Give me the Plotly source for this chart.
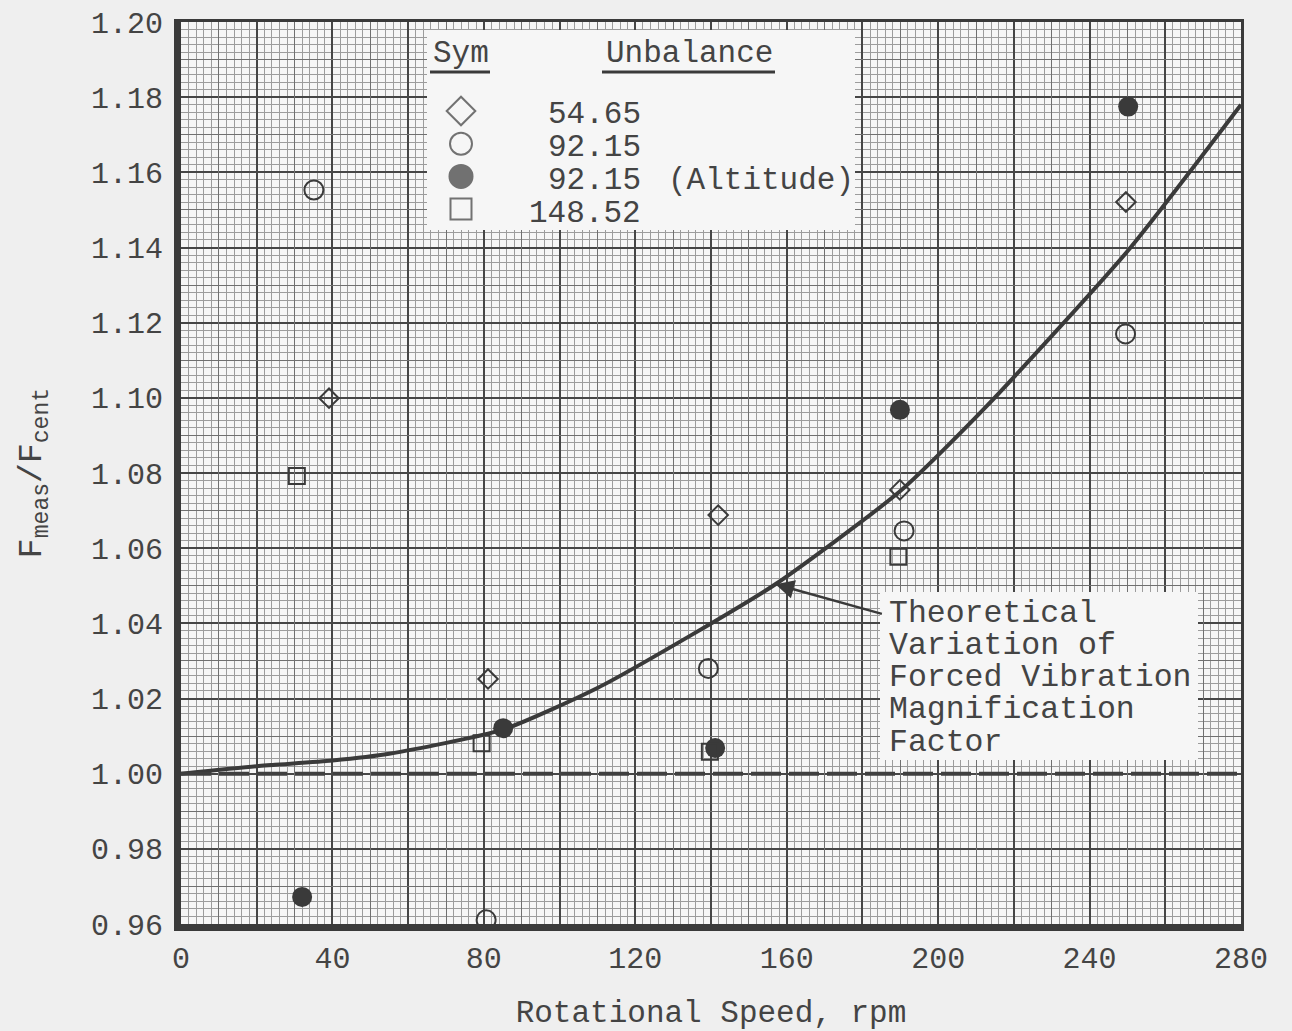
import plotly.graph_objects as go

# ---------------- data ----------------
diamond_rpm = [39.1, 81.1, 141.9, 189.9, 249.6]
diamond_ratio = [1.0999, 1.0252, 1.0688, 1.0755, 1.1521]

open_circle_rpm = [35.1, 80.6, 139.3, 191.0, 249.5]
open_circle_ratio = [1.1553, 0.9611, 1.0280, 1.0646, 1.1170]

filled_circle_rpm = [32.0, 85.1, 141.1, 189.9, 250.2]
filled_circle_ratio = [0.9672, 1.0121, 1.0068, 1.0968, 1.1775]

square_rpm = [30.6, 79.4, 139.7, 189.5]
square_ratio = [1.0792, 1.0081, 1.0058, 1.0577]

theory_rpm = [0, 20, 40, 55, 85, 110, 135, 157, 190, 213, 250, 280]
theory_ratio = [1.000, 1.002, 1.0035, 1.0053, 1.0117, 1.0228, 1.037, 1.0504,
                1.0752, 1.098, 1.139, 1.178]

baseline_ratio = 1.00
arrow_rpm, arrow_ratio = 157, 1.0504

x_tick_vals = list(range(0, 281, 40))
x_tick_text = [str(v) for v in x_tick_vals]
y_tick_vals = [round(0.96 + 0.02 * i, 2) for i in range(13)]
y_tick_text = [f"{v:.2f}" for v in y_tick_vals]

legend_symbols = ["diamond-open", "circle-open", "circle", "square-open"]
legend_sizes = [22, 22, 23, 21]
legend_numbers = ["54.65", "92.15", "92.15", "148.52"]
legend_notes = ["", "", "(Altitude)", ""]
note_lines = ["Theoretical", "Variation of", "Forced Vibration",
              "Magnification", "Factor"]

X_RANGE = [0, 280]
Y_RANGE = [0.96, 1.20]

# ---------------- layout geometry (pixels) ----------------
W, H = 1292, 1031
L, R, T, B = 181, 1241, 22, 924
FONT = "Liberation Mono"
INK = "#3a3a3a"
TXT = "#444444"
HEAVY, MEDIUM, FINE = "#464646", "#707070", "#9c9c9c"


def px_x(p):
    return (p - L) / (R - L)


def px_y(p):
    return (B - p) / (B - T)


fig = go.Figure()

# theoretical curve
fig.add_trace(go.Scatter(x=theory_rpm, y=theory_ratio, mode="lines",
                         line=dict(color=INK, width=4, shape="spline", smoothing=0.6),
                         hoverinfo="skip", showlegend=False))
# baseline dashed
fig.add_trace(go.Scatter(x=X_RANGE, y=[baseline_ratio, baseline_ratio], mode="lines",
                         line=dict(color="#3f3f3f", width=4, dash="30px,8px"),
                         hoverinfo="skip", showlegend=False))

mk_line = dict(color=INK, width=2)
fig.add_trace(go.Scatter(x=diamond_rpm, y=diamond_ratio, mode="markers",
                         marker=dict(symbol="diamond-open", size=15, line=mk_line, color=INK),
                         showlegend=False))
fig.add_trace(go.Scatter(x=open_circle_rpm, y=open_circle_ratio, mode="markers",
                         marker=dict(symbol="circle-open", size=19, line=mk_line, color=INK),
                         showlegend=False))
fig.add_trace(go.Scatter(x=filled_circle_rpm, y=filled_circle_ratio, mode="markers",
                         marker=dict(symbol="circle", size=20, color=INK,
                                     line=dict(width=0)),
                         showlegend=False))
fig.add_trace(go.Scatter(x=square_rpm, y=square_ratio, mode="markers",
                         marker=dict(symbol="square-open", size=16, line=mk_line, color=INK),
                         showlegend=False))

# invisible traces to create the overlay grid subplots
for xa in ("x2", "x5"):
    fig.add_trace(go.Scatter(x=[X_RANGE[0]], y=[Y_RANGE[0]], xaxis=xa, yaxis="y2",
                             mode="markers", marker=dict(opacity=0), hoverinfo="skip",
                             showlegend=False))

# ---- legend inset (x3/y3): x in pixels relative to symbol column, y in rows ----
LB_L, LB_R, LB_T, LB_B = 427, 855, 30, 230
SYM_X = 461
ROW0, ROW_STEP = 111, 32.7
rows = list(range(len(legend_symbols)))
fig.add_trace(go.Scatter(x=[0] * len(rows), y=rows, xaxis="x3", yaxis="y3",
                         mode="markers",
                         marker=dict(symbol=legend_symbols, size=legend_sizes, color=INK,
                                     line=dict(color=INK, width=2)),
                         hoverinfo="skip", showlegend=False))

# ---- note box inset (x4/y4) in pixels from box top-left ----
NB_L, NB_R, NB_T, NB_B = 880, 1198, 592, 760
fig.add_trace(go.Scatter(x=[0], y=[0], xaxis="x4", yaxis="y4", mode="markers",
                         marker=dict(opacity=0), hoverinfo="skip", showlegend=False))

tick_font = dict(family=FONT, size=30, color=TXT)

fig.update_layout(
    width=W, height=H,
    margin=dict(l=L, r=W - R, t=T, b=H - B),
    paper_bgcolor="#efefef",
    plot_bgcolor="#f6f6f6",
    hovermode=False,
    xaxis=dict(range=X_RANGE, tickvals=x_tick_vals, ticktext=x_tick_text,
               ticks="", ticklabelstandoff=1, tickfont=tick_font, automargin=False,
               showgrid=True, gridcolor=HEAVY, gridwidth=1.7,
               minor=dict(tick0=0, dtick=2, showgrid=True, gridcolor=FINE, gridwidth=1),
               zeroline=False, showline=True, linecolor=INK, linewidth=7,
               title=dict(text="Rotational Speed, rpm", standoff=32,
                          font=dict(family=FONT, size=31, color=TXT))),
    yaxis=dict(range=Y_RANGE, tickvals=y_tick_vals, ticktext=y_tick_text,
               ticks="", ticklabelstandoff=5, tickfont=tick_font, automargin=False,
               showgrid=True, gridcolor=HEAVY, gridwidth=1.7,
               minor=dict(tick0=0.96, dtick=0.002, showgrid=True, gridcolor=FINE,
                          gridwidth=1),
               zeroline=False, showline=True, linecolor=INK, linewidth=7,
               title=dict(text="F<sub>meas</sub>/F<sub>cent</sub>", standoff=42,
                          font=dict(family=FONT, size=33, color=TXT))),
    # heavy lines at odd multiples of 20 rpm, plus top frame line
    xaxis2=dict(range=X_RANGE, overlaying="x", anchor="y2", side="top",
                tick0=20, dtick=40, showgrid=True, gridcolor=HEAVY, gridwidth=1.7,
                showticklabels=False, ticks="", zeroline=False, automargin=False,
                showline=True, linecolor=INK, linewidth=3),
    # medium lines at odd multiples of 10 rpm
    xaxis5=dict(range=X_RANGE, overlaying="x", anchor="y2", side="bottom",
                tick0=10, dtick=20, showgrid=True, gridcolor=MEDIUM, gridwidth=1.2,
                showticklabels=False, ticks="", zeroline=False, automargin=False,
                showline=False),
    yaxis2=dict(range=Y_RANGE, overlaying="y", anchor="x2", side="right",
                tick0=0.97, dtick=0.02, showgrid=True, gridcolor=MEDIUM, gridwidth=1.2,
                showticklabels=False, ticks="", zeroline=False, automargin=False,
                showline=True, linecolor=INK, linewidth=3),
    xaxis3=dict(domain=[px_x(LB_L), px_x(LB_R)], anchor="y3",
                range=[LB_L - SYM_X, LB_R - SYM_X], visible=False),
    yaxis3=dict(domain=[px_y(LB_B), px_y(LB_T)], anchor="x3",
                range=[(LB_B - ROW0) / ROW_STEP, (LB_T - ROW0) / ROW_STEP], visible=False),
    xaxis4=dict(domain=[px_x(NB_L), px_x(NB_R)], anchor="y4",
                range=[0, NB_R - NB_L], visible=False),
    yaxis4=dict(domain=[px_y(NB_B), px_y(NB_T)], anchor="x4",
                range=[NB_B - NB_T, 0], visible=False),
)

leg_font = dict(family=FONT, size=31, color=TXT)
note_font = dict(family=FONT, size=31.5, color=TXT)
HEAD_ROW = (53 - ROW0) / ROW_STEP
UL_ROW = (72 - ROW0) / ROW_STEP

fig.add_annotation(x=0, y=HEAD_ROW, xref="x3", yref="y3", text="Sym",
                   showarrow=False, font=leg_font, xanchor="center", yanchor="middle")
fig.add_annotation(x=689 - SYM_X, y=HEAD_ROW, xref="x3", yref="y3", text="Unbalance",
                   showarrow=False, font=leg_font, xanchor="center", yanchor="middle")
fig.add_shape(type="line", xref="x3", yref="y3", x0=430 - SYM_X, x1=490 - SYM_X,
              y0=UL_ROW, y1=UL_ROW, line=dict(color=INK, width=3))
fig.add_shape(type="line", xref="x3", yref="y3", x0=602 - SYM_X, x1=775 - SYM_X,
              y0=UL_ROW, y1=UL_ROW, line=dict(color=INK, width=3))
for r, num, note in zip(rows, legend_numbers, legend_notes):
    fig.add_annotation(x=643 - SYM_X, y=r + 0.12, xref="x3", yref="y3", text=num,
                       showarrow=False, font=leg_font, xanchor="right", yanchor="middle")
    if note:
        fig.add_annotation(x=666 - SYM_X, y=r + 0.12, xref="x3", yref="y3", text=note,
                           showarrow=False, font=leg_font, xanchor="left", yanchor="middle")

NOTE_Y0, NOTE_STEP = 613 - NB_T, 32.3
for i, line in enumerate(note_lines):
    fig.add_annotation(x=7, y=NOTE_Y0 + i * NOTE_STEP, xref="x4", yref="y4", text=line,
                       showarrow=False, font=note_font, xanchor="left", yanchor="middle")

fig.add_annotation(x=arrow_rpm, y=arrow_ratio, xref="x", yref="y", text="",
                   showarrow=True, ax=NB_L + 3 - 775, ay=613 - 583,
                   arrowhead=2, arrowsize=1.5, arrowwidth=2.5, arrowcolor=INK)

fig.write_html("out.html")
